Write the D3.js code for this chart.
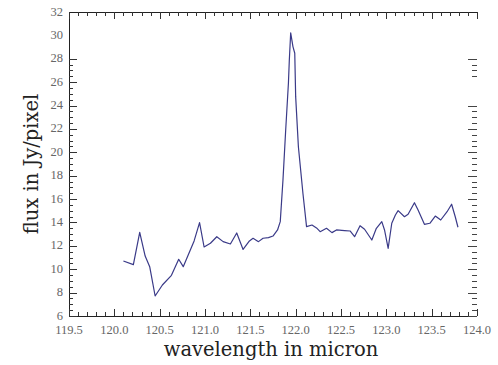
<!DOCTYPE html>
<html><head><meta charset="utf-8">
<script src="https://cdn.jsdelivr.net/npm/d3@7"></script>
<style>body{margin:0;background:#fff}svg{display:block}</style>
</head><body>
<svg id="c" width="498" height="365"></svg>
<script>
const wavelength = [120.10,120.21,120.28,120.34,120.39,120.45,120.53,120.63,120.71,120.76,120.88,120.94,120.99,121.06,121.13,121.20,121.28,121.35,121.42,121.49,121.53,121.59,121.64,121.70,121.75,121.80,121.83,121.86,121.89,121.92,121.93,121.945,121.97,121.99,122.00,122.03,122.08,122.12,122.18,122.23,122.27,122.34,122.40,122.45,122.54,122.60,122.65,122.71,122.76,122.84,122.89,122.95,122.98,123.02,123.06,123.10,123.13,123.20,123.24,123.31,123.35,123.42,123.48,123.54,123.60,123.67,123.72,123.76,123.79];
const flux = [10.70,10.39,13.16,11.13,10.22,7.71,8.65,9.48,10.85,10.22,12.42,13.98,11.90,12.22,12.78,12.36,12.16,13.10,11.69,12.42,12.65,12.36,12.65,12.70,12.84,13.36,14.07,17.63,21.91,25.91,27.90,30.21,29.04,28.47,24.76,20.48,16.50,13.64,13.78,13.53,13.21,13.50,13.13,13.36,13.30,13.27,12.78,13.72,13.42,12.50,13.50,14.07,13.36,11.79,13.93,14.64,15.01,14.49,14.70,15.69,15.07,13.84,13.93,14.55,14.21,14.92,15.56,14.49,13.59];
const xTickLabels = [119.5,120.0,120.5,121.0,121.5,122.0,122.5,123.0,123.5,124.0];
const yTickLabels = [6,8,10,12,14,16,18,20,22,24,26,28,30,32];
const yMajorTicks = [6,8,10,12,14,16,18,20,22,24,26,28];
const rightTicks = [6,6.5,7,7.5,8,8.5,9,9.5,10,10.5,11,11.5,12,12.5,13,13.5,14,14.5,15,15.5,16,16.5,17,17.5,18,18.5,19,19.5,20,20.5,21,21.5,22,22.5,23,23.5,24,26.5,27,27.5,28];

const svg = d3.select("#c");
const L = 69, R = 477, T = 12, B = 316;
const x = d3.scaleLinear().domain([119.5,124.0]).range([L,R]);
const y = d3.scaleLinear().domain([6,32]).range([B,T]);
const serif = "'Liberation Serif','DejaVu Serif',serif";
const titleFont = "'DejaVu Serif','Liberation Serif',serif";

// axis lines
svg.append("line").attr("x1",L).attr("x2",R).attr("y1",B+0.5).attr("y2",B+0.5).attr("stroke","#222");
svg.append("line").attr("x1",L).attr("x2",R).attr("y1",T+0.5).attr("y2",T+0.5).attr("stroke","#222");
svg.append("line").attr("x1",L+0.5).attr("x2",L+0.5).attr("y1",T).attr("y2",B).attr("stroke","#222");

// x ticks (bottom & top)
const xMinor = d3.range(1195,1241).map(d=>d/10);
const isMajor = v => Math.abs(v*2 - Math.round(v*2)) < 1e-6;
const gx = svg.append("g");
xMinor.forEach(v=>{
  const len = isMajor(v) ? 7 : 4;
  const px = Math.round(x(v))+0.5;
  gx.append("line").attr("x1",px).attr("x2",px).attr("y1",B).attr("y2",B-len).attr("stroke","#333");
  gx.append("line").attr("x1",px).attr("x2",px).attr("y1",T).attr("y2",T+len).attr("stroke","#333");
});
// x labels
svg.append("g").selectAll("text").data(xTickLabels).join("text")
  .attr("x",d=>x(d)).attr("y",B+18).attr("text-anchor","middle")
  .attr("font-family",serif).attr("font-size",12.5).attr("fill","#666")
  .text(d=>d.toFixed(1));

// y ticks left
const gy = svg.append("g");
d3.range(6,28.01,0.5).forEach(v=>{
  const len = yMajorTicks.includes(v) ? 8 : 4;
  const py = Math.round(y(v))+0.5;
  gy.append("line").attr("x1",L).attr("x2",L+len).attr("y1",py).attr("y2",py).attr("stroke","#333");
});
// right ticks
rightTicks.forEach(v=>{
  const len = (v%2===0) ? 9 : 5;
  const py = Math.round(y(v))+0.5;
  gy.append("line").attr("x1",R).attr("x2",R-len).attr("y1",py).attr("y2",py).attr("stroke","#444");
});
svg.append("g").selectAll("text").data(yTickLabels).join("text")
  .attr("x",L-6).attr("y",d=>y(d)+3.5).attr("text-anchor","end")
  .attr("font-family",serif).attr("font-size",12.5).attr("fill","#666")
  .text(d=>d);

// line
const line = d3.line().x((d,i)=>x(wavelength[i])).y((d,i)=>y(flux[i]));
svg.append("path").datum(flux).attr("d",line).attr("fill","none")
  .attr("stroke","#3a3a88").attr("stroke-width",1.2).attr("stroke-linejoin","round");

// titles
svg.append("text").attr("x",271).attr("y",356).attr("text-anchor","middle")
  .attr("font-family",titleFont).attr("font-size",19.5).attr("fill","#222").text("wavelength in micron");
svg.append("text").attr("transform","translate(38,164) rotate(-90)").attr("text-anchor","middle")
  .attr("font-family",titleFont).attr("font-size",19.5).attr("fill","#222").text("flux in Jy/pixel");
</script>
</body></html>
